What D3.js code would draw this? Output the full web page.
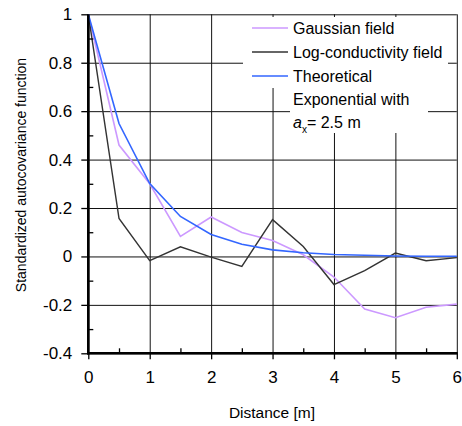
<!DOCTYPE html>
<html>
<head>
<meta charset="utf-8">
<script src="https://cdn.jsdelivr.net/npm/d3@7"></script>
<style>
  html, body { margin: 0; padding: 0; background: #fff; }
  svg { display: block; font-family: "Liberation Sans", Arial, sans-serif; }
</style>
</head>
<body>
<svg id="chart" width="462" height="426"></svg>
<script>
// ---- data ----
const distance = [0, 0.5, 1, 1.5, 2, 2.5, 3, 3.5, 4, 4.5, 5, 5.5, 6];
const gaussianField = [1, 0.46, 0.30, 0.083, 0.163, 0.099, 0.066, 0.007, -0.085, -0.217, -0.253, -0.21, -0.197];
const logConductivity = [1, 0.157, -0.017, 0.04, -0.003, -0.041, 0.152, 0.041, -0.116, -0.059, 0.014, -0.018, -0.005];
const theoretical = [1, 0.549, 0.301, 0.165, 0.091, 0.050, 0.027, 0.015, 0.008, 0.005, 0.002, 0.001, 0.001];
const xTicks = [0, 1, 2, 3, 4, 5, 6];
const xMinorTicks = [0.5, 1.5, 2.5, 3.5, 4.5, 5.5];
const yTicks = [-0.4, -0.2, 0, 0.2, 0.4, 0.6, 0.8, 1];
const yMinorTicks = [-0.3, -0.1, 0.1, 0.3, 0.5, 0.7, 0.9];
const seriesNames = ["Gaussian field", "Log-conductivity field", "Theoretical"];
const seriesColors = ["#cc99ff", "#333333", "#3366ff"];

// ---- layout ----
const svg = d3.select("#chart");
const x = d3.scaleLinear().domain([0, 6]).range([88.3, 456.8]);
const y = d3.scaleLinear().domain([-0.4, 1]).range([353.3, 14.3]);
const fmt = d => (d === 0 ? "0" : String(d));

// gridlines
const grid = svg.append("g");
grid.append("g")
  .attr("transform", `translate(0,${y(-0.4)})`)
  .call(d3.axisBottom(x).tickValues(xTicks).tickSize(-(y(-0.4) - y(1))).tickFormat(""))
  .call(g => g.select(".domain").remove())
  .call(g => g.selectAll("line").attr("stroke", "#111").attr("stroke-width", 1));
grid.append("g")
  .attr("transform", `translate(${x(0)},0)`)
  .call(d3.axisLeft(y).tickValues(yTicks).tickSize(-(x(6) - x(0))).tickFormat(""))
  .call(g => g.select(".domain").remove())
  .call(g => g.selectAll("line").attr("stroke", "#111").attr("stroke-width", 1));

// series lines
const series = [gaussianField, logConductivity, theoretical];
const line = d3.line().x((d, i) => x(distance[i])).y(d => y(d));
series.forEach((s, k) => {
  svg.append("path")
    .datum(s)
    .attr("d", line)
    .attr("fill", "none")
    .attr("stroke", seriesColors[k])
    .attr("stroke-width", k === 1 ? 1.4 : 1.6)
    .attr("stroke-linejoin", "miter");
});

// axes
const xAxis = svg.append("g").attr("transform", `translate(0,${y(-0.4)})`);
xAxis.call(d3.axisBottom(x).tickValues(xTicks).tickSize(6).tickFormat(fmt).tickPadding(12))
  .call(g => g.select(".domain").remove())
  .call(g => g.selectAll("line").attr("stroke", "#000").attr("stroke-width", 1.3))
  .call(g => g.selectAll("text").attr("font-size", 17).attr("fill", "#000")
        .attr("font-family", "Liberation Sans, Arial, sans-serif"));
svg.append("g").attr("transform", `translate(0,${y(-0.4)})`)
  .call(d3.axisBottom(x).tickValues(xMinorTicks).tickSize(-5).tickFormat(""))
  .call(g => g.select(".domain").remove())
  .call(g => g.selectAll("line").attr("stroke", "#000").attr("stroke-width", 1.3));

const yAxis = svg.append("g").attr("transform", `translate(${x(0)},0)`);
yAxis.call(d3.axisLeft(y).tickValues(yTicks).tickSize(7).tickFormat(fmt).tickPadding(9))
  .call(g => g.select(".domain").remove())
  .call(g => g.selectAll("line").attr("stroke", "#000").attr("stroke-width", 1.3))
  .call(g => g.selectAll("text").attr("font-size", 17).attr("fill", "#000")
        .attr("font-family", "Liberation Sans, Arial, sans-serif"));
svg.append("g").attr("transform", `translate(${x(0)},0)`)
  .call(d3.axisLeft(y).tickValues(yMinorTicks).tickSize(-5).tickFormat(""))
  .call(g => g.select(".domain").remove())
  .call(g => g.selectAll("line").attr("stroke", "#000").attr("stroke-width", 1.3));

// thick axis lines
svg.append("line").attr("x1", x(0)).attr("x2", x(0)).attr("y1", y(1)).attr("y2", y(-0.4) + 1.3)
  .attr("stroke", "#000").attr("stroke-width", 2.6);
svg.append("line").attr("x1", x(0) - 1.3).attr("x2", x(6) + 1).attr("y1", y(-0.4)).attr("y2", y(-0.4))
  .attr("stroke", "#000").attr("stroke-width", 2.6);

// legend
const lg = svg.append("g");
lg.append("rect").attr("x", 243).attr("y", 17).attr("width", 205).attr("height", 71).attr("fill", "#fff");
lg.append("rect").attr("x", 290).attr("y", 88).attr("width", 138).attr("height", 45).attr("fill", "#fff");
const rowY = [28, 52, 76];
seriesNames.forEach((name, k) => {
  lg.append("line").attr("x1", 252).attr("x2", 288).attr("y1", rowY[k]).attr("y2", rowY[k])
    .attr("stroke", seriesColors[k]).attr("stroke-width", 1.4);
  lg.append("text").attr("x", 293).attr("y", rowY[k]).attr("dy", "0.35em")
    .attr("font-size", 16).attr("fill", "#000").text(name);
});
lg.append("text").attr("x", 293).attr("y", 99).attr("dy", "0.35em")
  .attr("font-size", 16).attr("fill", "#000").text("Exponential with");
const ax = lg.append("text").attr("x", 293).attr("y", 122).attr("dy", "0.35em")
  .attr("font-size", 16).attr("fill", "#000");
ax.append("tspan").attr("font-style", "italic").text("a");
ax.append("tspan").attr("font-size", 10).attr("dy", 5).text("x");
ax.append("tspan").attr("dy", -5).text("= 2.5 m");

// axis titles
svg.append("text").attr("x", 272).attr("y", 413).attr("dy", "0.35em")
  .attr("text-anchor", "middle").attr("font-size", 15.5).attr("fill", "#000").text("Distance [m]");
svg.append("text").attr("transform", "translate(21,175) rotate(-90)").attr("dy", "0.35em")
  .attr("text-anchor", "middle").attr("font-size", 14).attr("fill", "#000")
  .text("Standardized autocovariance function");
</script>
</body>
</html>
